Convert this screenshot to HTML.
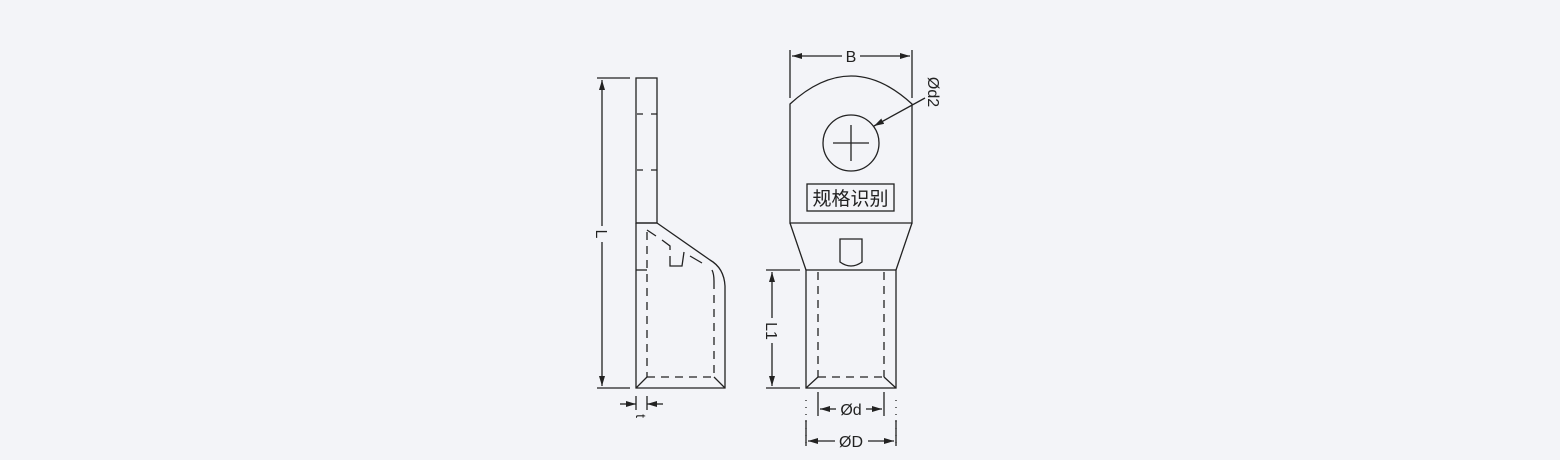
<!DOCTYPE html>
<html><head><meta charset="utf-8"><style>
html,body{margin:0;padding:0;background:#f3f4f8;}
svg{display:block;}
text{font-family:"Liberation Sans",sans-serif;fill:#222;}
</style></head><body>
<svg width="1560" height="460" viewBox="0 0 1560 460" xmlns="http://www.w3.org/2000/svg">
<defs>
<marker id="a" viewBox="0 0 10 6" refX="10" refY="3" markerWidth="10" markerHeight="6" orient="auto-start-reverse" markerUnits="userSpaceOnUse">
<path d="M0,0 L10,3 L0,6 Z" fill="#222"/></marker>
</defs>
<rect width="1560" height="460" fill="#f3f4f8"/>
<g fill="none" stroke="#222" stroke-width="1.3">
<!-- side view -->
<rect x="636" y="78" width="21" height="145"/>
<path d="M636,223 L636,388 L725,388 L725,286 Q724,268 710,260 L657,223"/>
<path d="M636,223 L657,223"/>
<path d="M636,388 L647,377 M725,388 L714,377"/>
<path d="M636,114 H657 M636,170 H657" stroke-dasharray="6,8" stroke-dashoffset="-1"/>
<path d="M636,270 H647"/>
<g stroke-dasharray="8,6">
<path d="M647,377 H714"/>
<path d="M647,232 V377"/>
<path d="M714,281 V377"/>
</g>
<path d="M647,230 L656,236 M662,240 L670,246 L670,250 M684,252 L682,266 L670,266 L670,256 M690,256 L702,263 M712,270 Q714,274 714,281"/>
<!-- L dimension -->
<path d="M597,78 H630 M597,388 H630"/>
<path d="M602,80 V226 M602,242 V386" marker-start="url(#a)" marker-end="url(#a)"/>
<!-- t -->
<path d="M636,396 V410 M647,396 V410"/>
<path d="M620,404 H636" marker-end="url(#a)"/>
<path d="M663,404 H647" marker-end="url(#a)"/>
<!-- front view -->
<path d="M790,223 V104 Q851,48 912,104 V223 Z"/>
<path d="M790,223 L806,270 M912,223 L896,270"/>
<rect x="806" y="270" width="90" height="118"/>
<path d="M806,388 L818,377 M896,388 L884,377"/>
<g stroke-dasharray="8,6">
<path d="M818,272 V377 M884,272 V377 M818,377 H884"/>
</g>
<circle cx="851" cy="143" r="28"/>
<path d="M833,143 H869 M851,125 V161"/>
<rect x="807" y="184" width="87" height="27"/>
<path d="M840,262 V239 H862 V262 Q851,270 840,262 Z"/>
<!-- B -->
<path d="M790,98 V50 M912,98 V50"/>
<path d="M792,56 H842" marker-start="url(#a)"/>
<path d="M860,56 H910" marker-end="url(#a)"/>
<!-- d2 leader -->
<path d="M925,98 L874,126" marker-end="url(#a)"/>
<!-- L1 -->
<path d="M766,270 H800 M766,388 H800"/>
<path d="M772,272 V318 M772,343 V386" marker-start="url(#a)" marker-end="url(#a)"/>
<!-- Ød / ØD -->
<path d="M818,392 V416 M884,392 V416"/>
<path d="M806,400 V446 M896,400 V446" stroke-dasharray="1,6"/>
<path d="M806,420 V446 M896,420 V446"/>
<path d="M820,409 H836" marker-start="url(#a)"/>
<path d="M866,409 H882" marker-end="url(#a)"/>
<path d="M808,441 H835" marker-start="url(#a)"/>
<path d="M868,441 H894" marker-end="url(#a)"/>
</g>
<text x="851" y="62" font-size="16" text-anchor="middle">B</text>
<text transform="translate(928,92) rotate(90)" font-size="16" text-anchor="middle">Ød2</text>
<text transform="translate(596,234) rotate(90)" font-size="16" text-anchor="middle">L</text>
<text transform="translate(636,416) rotate(90)" font-size="14" text-anchor="middle">t</text>
<text transform="translate(766,331) rotate(90)" font-size="16" text-anchor="middle">L1</text>
<text x="851" y="415" font-size="16" text-anchor="middle">Ød</text>
<text x="851" y="447" font-size="16" text-anchor="middle">ØD</text>
<text x="850.5" y="205" font-size="19" text-anchor="middle" style="font-family:'Noto Sans CJK SC',sans-serif">规格识别</text>
</svg>
</body></html>
